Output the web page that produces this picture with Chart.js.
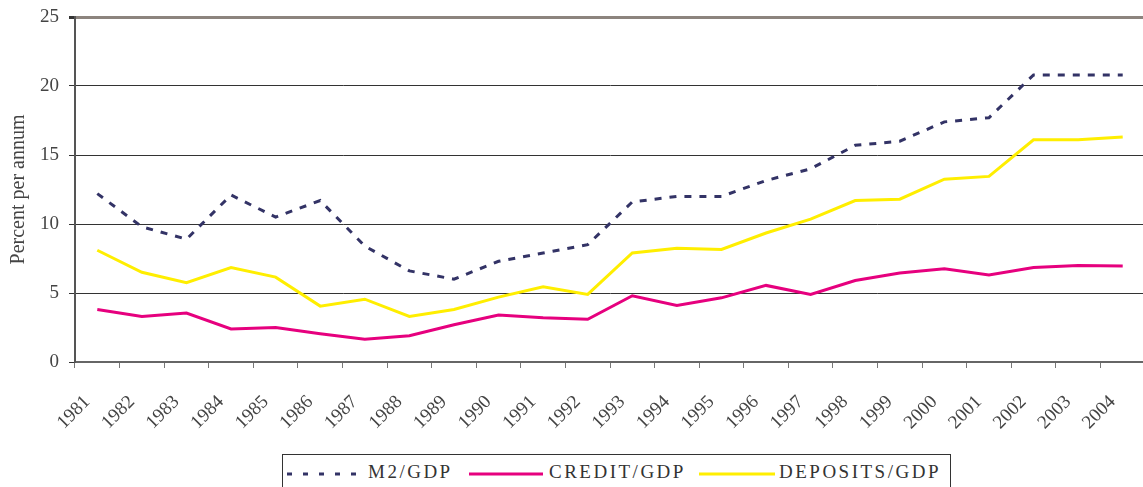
<!DOCTYPE html>
<html>
<head>
<meta charset="utf-8">
<script src="https://cdn.jsdelivr.net/npm/chart.js@4"></script>
<style>
  html, body { margin: 0; padding: 0; background: #fff; overflow: hidden; }
  #wrap { position: relative; width: 1143px; height: 487px; overflow: hidden; }
  #chartBox { position: absolute; left: 0; top: 0; width: 1146px; height: 487px; }
  #legend {
    position: absolute; left: 282px; top: 454px; width: 667px; height: 40px;
    border: 1px solid #333; background: #fff;
    font-family: 'Liberation Serif', 'DejaVu Serif', serif; font-size: 19px; color: #333;
  }
  #legend .sample { position: absolute; top: 17px; }
  #legend .txt { position: absolute; top: 6px; letter-spacing: 2.5px; white-space: nowrap; }
</style>
</head>
<body>
<div id="wrap">
  <div id="chartBox"><canvas id="lineChart"></canvas></div>
  <div id="legend">
    <svg class="sample" style="left:4px" width="72" height="4"><line x1="0" y1="2" x2="72" y2="2" stroke="#333366" stroke-width="3" stroke-dasharray="5 11"/></svg>
    <span class="txt" style="left:85px">M2/GDP</span>
    <svg class="sample" style="left:186px" width="74" height="4"><line x1="0" y1="2" x2="74" y2="2" stroke="#e6007e" stroke-width="3"/></svg>
    <span class="txt" style="left:266px">CREDIT/GDP</span>
    <svg class="sample" style="left:416px" width="76" height="4"><line x1="0" y1="2" x2="76" y2="2" stroke="#ffee00" stroke-width="3"/></svg>
    <span class="txt" style="left:496px">DEPOSITS/GDP</span>
  </div>
</div>
<script>
const years = ['1981', '1982', '1983', '1984', '1985', '1986', '1987', '1988', '1989', '1990', '1991', '1992',
               '1993', '1994', '1995', '1996', '1997', '1998', '1999', '2000', '2001', '2002', '2003', '2004'];

// percent per annum
const m2Gdp       = [12.2, 9.8, 8.9, 12.1, 10.5, 11.7, 8.4, 6.6, 6.0, 7.3, 7.9, 8.5,
                     11.6, 12.0, 12.0, 13.15, 14.0, 15.7, 16.0, 17.4, 17.7, 20.8, 20.8, 20.8];
const creditGdp   = [3.8, 3.3, 3.55, 2.4, 2.5, 2.05, 1.65, 1.9, 2.7, 3.4, 3.2, 3.1,
                     4.8, 4.1, 4.65, 5.55, 4.9, 5.9, 6.45, 6.75, 6.3, 6.85, 7.0, 6.95];
const depositsGdp = [8.1, 6.5, 5.75, 6.85, 6.15, 4.05, 4.55, 3.3, 3.8, 4.7, 5.45, 4.9,
                     7.9, 8.25, 8.15, 9.35, 10.35, 11.7, 11.8, 13.25, 13.45, 16.1, 16.1, 16.3];

const yTicks = [0, 5, 10, 15, 20, 25];

const serif = "'Liberation Serif', 'DejaVu Serif', serif";
const textColor = '#444';

const ctx = document.getElementById('lineChart').getContext('2d');
const lineChart = new Chart(ctx, {
    type: 'line',
    data: {
        labels: years,
        datasets: [
            {
                label: 'M2/GDP',
                data: m2Gdp,
                borderColor: '#333366',
                borderWidth: 3,
                borderDash: [7, 8],
                pointRadius: 0,
                tension: 0,
                fill: false
            },
            {
                label: 'CREDIT/GDP',
                data: creditGdp,
                borderColor: '#e6007e',
                borderWidth: 3,
                pointRadius: 0,
                tension: 0,
                fill: false
            },
            {
                label: 'DEPOSITS/GDP',
                data: depositsGdp,
                borderColor: '#ffee00',
                borderWidth: 3,
                pointRadius: 0,
                tension: 0,
                fill: false
            }
        ]
    },
    options: {
        responsive: true,
        maintainAspectRatio: false,
        animation: false,
        layout: { padding: { top: 17, right: 1, left: 0, bottom: 0 } },
        plugins: {
            legend: { display: false },
            tooltip: { enabled: false }
        },
        scales: {
            x: {
                type: 'category',
                offset: true,
                afterFit: (scale) => {
                    scale.height = 125;
                    scale.paddingLeft = 0;
                    scale.paddingRight = 0;
                },
                grid: {
                    offset: true,
                    drawOnChartArea: false,
                    tickLength: 6,
                    color: '#777',
                    lineWidth: 1
                },
                border: { color: '#666', width: 2 },
                ticks: {
                    autoSkip: false,
                    maxRotation: 45,
                    minRotation: 45,
                    labelOffset: -10,
                    padding: 23,
                    color: textColor,
                    font: { family: serif, size: 19 }
                }
            },
            y: {
                min: 0,
                max: 25,
                afterFit: (scale) => {
                    scale.width = 75;
                    scale.paddingTop = 0;
                    scale.paddingBottom = 0;
                },
                afterBuildTicks: (scale) => { scale.ticks = yTicks.map(v => ({ value: v })); },
                grid: {
                    color: (c) => c.tick && c.tick.value === 25 ? '#8c847e' : '#333',
                    lineWidth: (c) => c.tick && c.tick.value === 25 ? 3 : 1,
                    tickColor: '#333',
                    tickLength: 6
                },
                border: { color: '#555', width: 2 },
                title: {
                    display: true,
                    text: 'Percent per annum',
                    color: textColor,
                    font: { family: serif, size: 20 },
                    padding: { top: 7, bottom: 0 }
                },
                ticks: {
                    padding: 10,
                    color: textColor,
                    font: { family: serif, size: 19 }
                }
            }
        }
    }
});
</script>
</body>
</html>
